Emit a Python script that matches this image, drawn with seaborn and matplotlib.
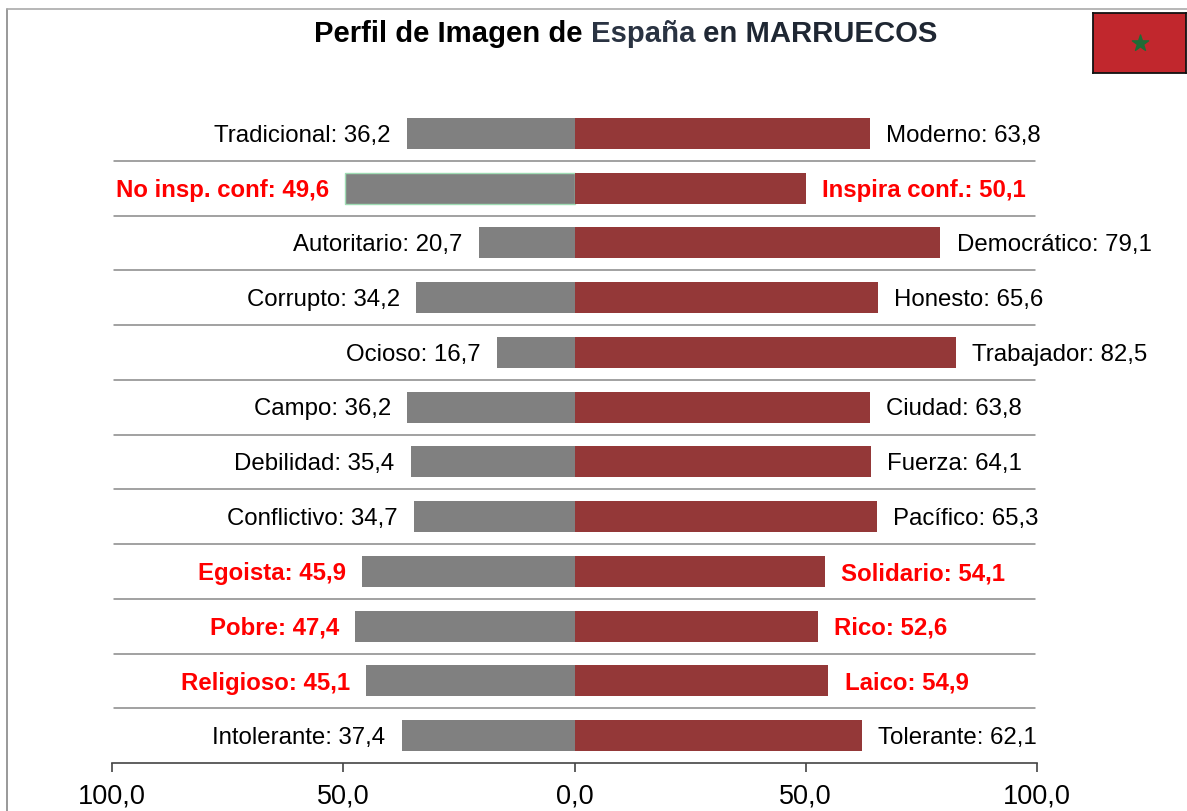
import pandas as pd
import seaborn as sns
import matplotlib.pyplot as plt
from matplotlib.patches import Rectangle
from matplotlib.lines import Line2D

left_names = ['Tradicional', 'No insp. conf', 'Autoritario', 'Corrupto', 'Ocioso',
              'Campo', 'Debilidad', 'Conflictivo', 'Egoista', 'Pobre',
              'Religioso', 'Intolerante']
right_names = ['Moderno', 'Inspira conf.', 'Democrático', 'Honesto', 'Trabajador',
               'Ciudad', 'Fuerza', 'Pacífico', 'Solidario', 'Rico',
               'Laico', 'Tolerante']
left_values = [36.2, 49.6, 20.7, 34.2, 16.7, 36.2, 35.4, 34.7, 45.9, 47.4, 45.1, 37.4]
right_values = [63.8, 50.1, 79.1, 65.6, 82.5, 63.8, 64.1, 65.3, 54.1, 52.6, 54.9, 62.1]
highlighted = ['No insp. conf', 'Egoista', 'Pobre', 'Religioso']
x_ticks = [-100, -50, 0, 50, 100]
x_tick_labels = ['100,0', '50,0', '0,0', '50,0', '100,0']

W, H = 1187, 811

sns.set_theme(style='white')
plt.rcParams['font.family'] = ['Liberation Sans', 'DejaVu Sans']

df = pd.DataFrame({'left': left_names, 'right': right_names,
                   'lv': left_values, 'rv': right_values})
df['neg'] = -df['lv']

fig = plt.figure(figsize=(W / 100, H / 100), dpi=100)
ax = fig.add_axes([112 / W, 1 - 763 / H, 925 / W, (763 - 106) / H])
ax.patch.set_alpha(0)

sns.barplot(data=df, x='neg', y='left', order=left_names, orient='y',
            color='#808080', saturation=1, width=0.57, linewidth=0, ax=ax)
ax.patches[1].set_edgecolor('#9fdcb4')
ax.patches[1].set_linewidth(1)
sns.barplot(data=df, x='rv', y='left', order=left_names, orient='y',
            color='#943838', saturation=1, width=0.57, linewidth=0, ax=ax)

ax.set_xlim(-100, 100)
ax.set_ylim(11.5, -0.5)
ax.set_xlabel('')
ax.set_ylabel('')
ax.set_yticks([])
ax.set_xticks(x_ticks)
ax.set_xticklabels(x_tick_labels, fontsize=19.5)
ax.tick_params(axis='x', direction='out', bottom=True, length=6.5, width=1.2,
               color='#444444', labelcolor='black', pad=8)

for side in ['top', 'left', 'right']:
    ax.spines[side].set_visible(False)
ax.spines['bottom'].set_color('#444444')
ax.spines['bottom'].set_linewidth(1.2)

# separators between rows
for i in range(len(left_names) - 1):
    ax.plot([-99.5, 99.5], [i + 0.5, i + 0.5], color='#888888', lw=1.1)

for i, row in df.iterrows():
    hot = row['left'] in highlighted
    col = '#ff0000' if hot else 'black'
    wt = 'bold' if hot else 'normal'
    ax.text(-row['lv'] - 3.5, i + 0.04, '%s: %s' % (row['left'], str(row['lv']).replace('.', ',')),
            ha='right', va='center', fontsize=17.3, color=col, fontweight=wt)
    ax.text(row['rv'] + 3.5, i + 0.04, '%s: %s' % (row['right'], str(row['rv']).replace('.', ',')),
            ha='left', va='center', fontsize=17.3, color=col, fontweight=wt)

# title in three colours
t1 = fig.text(314 / W, 1 - 34.5 / H, 'Perfil de Imagen de ', fontsize=21.1, fontweight='bold',
              color='black', va='center', ha='left')
t2 = plt.annotate('España', xycoords=t1, xy=(1, 0), va='bottom', ha='left', fontsize=21.1,
                  fontweight='bold', color='#2a3342', annotation_clip=False)
plt.annotate(' en MARRUECOS', xycoords=t2, xy=(1, 0), va='bottom', ha='left', fontsize=21.1,
             fontweight='bold', color='#1f2733', annotation_clip=False)

# outer frame lines
fig.add_artist(Line2D([7 / W, 7 / W], [0, 1 - 9 / H], color='#888888', lw=1.2))
fig.add_artist(Line2D([7 / W, 1], [1 - 9 / H, 1 - 9 / H], color='#aaaaaa', lw=1.2))

# flag
flag = fig.add_axes([1093 / W, 1 - 73 / H, 93 / W, 60 / H])
flag.set_xlim(0, 1)
flag.set_ylim(0, 1)
flag.set_xticks([])
flag.set_yticks([])
flag.add_patch(Rectangle((0, 0), 1, 1, color='#c1272d'))
flag.scatter([0.5], [0.5], marker='*', s=150, color='#1f6b36')
for s in flag.spines.values():
    s.set_visible(True)
    s.set_color('#111111')
    s.set_linewidth(1.3)

plt.savefig('out.png', dpi=100)
plt.close()
